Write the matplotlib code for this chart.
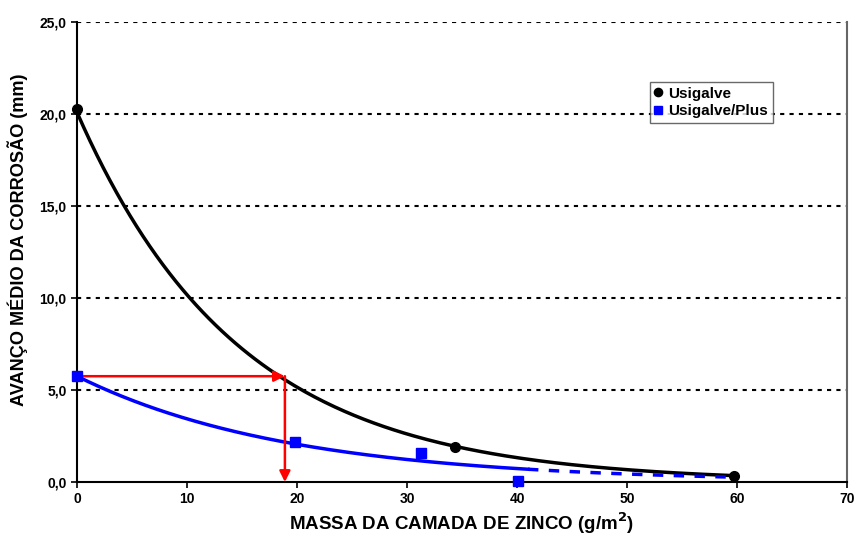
import matplotlib.pyplot as plt
import numpy as np
from matplotlib.ticker import FuncFormatter

plt.rcParams['font.family'] = ['Liberation Sans', 'DejaVu Sans']
plt.rcParams['font.weight'] = 'bold'

# measured points
usi_x = [0.0, 34.4, 59.7]
usi_y = [20.25, 1.9, 0.35]
plus_x = [0.0, 19.8, 31.3, 40.1]
plus_y = [5.75, 2.15, 1.55, 0.05]

# exponential trendline for Usigalve/Plus (y = a*exp(-b*x))
plus_a = 5.75
plus_b = 0.0516
plus_solid_end = 41.0
plus_dash_end = 59.0

# reading of the reference value
ref_y = 5.75
ref_x = 18.9

fig = plt.figure(figsize=(8.58, 5.36), dpi=100)
ax = fig.add_axes([77/858, 1-482/536, 770/858, 460/536])

# Usigalve trendline fitted on log values
k, c = np.polyfit(usi_x, np.log(usi_y), 1)
xs = np.linspace(0, max(usi_x), 200)
ax.plot(xs, np.exp(c + k*xs), color='black', lw=2.5, zorder=3)

xs1 = np.linspace(0, plus_solid_end, 200)
ax.plot(xs1, plus_a*np.exp(-plus_b*xs1), color='#0000ff', lw=2.5, zorder=3)
xs2 = np.linspace(plus_solid_end, plus_dash_end, 100)
ax.plot(xs2, plus_a*np.exp(-plus_b*xs2), color='#0000ff', lw=2.5,
        dashes=(3, 3), zorder=3)

ax.plot(usi_x, usi_y, 'o', color='black', ms=7, zorder=5, label='Usigalve', clip_on=False)
ax.plot(plus_x, plus_y, 's', color='#0000ff', ms=6.5, zorder=5, label='Usigalve/Plus', clip_on=False)

# red reading arrows
ax.annotate('', xy=(ref_x, ref_y), xytext=(0, ref_y),
            arrowprops=dict(arrowstyle='-|>', color='red', lw=1.8,
                            mutation_scale=16, shrinkA=0, shrinkB=0), zorder=4)
ax.annotate('', xy=(ref_x, 0), xytext=(ref_x, ref_y),
            arrowprops=dict(arrowstyle='-|>', color='red', lw=1.8,
                            mutation_scale=16, shrinkA=0, shrinkB=0), zorder=4)

ax.set_xlim(0, 70)
ax.set_ylim(0, 25)
ax.set_xticks(range(0, 71, 10))
ax.set_yticks(np.arange(0, 26, 5))
ax.yaxis.set_major_formatter(FuncFormatter(lambda v, p: f'{v:.1f}'.replace('.', ',')))
ax.tick_params(labelsize=10, width=1.2, length=4)
for lab in ax.get_xticklabels() + ax.get_yticklabels():
    lab.set_fontweight('bold')

for v in range(5, 26, 5):
    ax.axhline(v, color='black', lw=1.5, ls=(0, (2, 2.5)), zorder=1)

ax.spines['top'].set_visible(False)
ax.spines['left'].set_linewidth(1.5)
ax.spines['bottom'].set_linewidth(1.5)
ax.spines['right'].set_color('#666666')
ax.spines['right'].set_linewidth(1.5)

ax.set_xlabel('MASSA DA CAMADA DE ZINCO (g/m$^\\mathbf{2}$)', fontsize=13.5, fontweight='bold', labelpad=3)
ax.set_ylabel('AVANÇO MÉDIO DA CORROSÃO (mm)', fontsize=13.1, fontweight='bold')
ax.yaxis.set_label_coords(-0.063, 0.5 + 12/460)

leg = ax.legend(loc='upper left', frameon=True, fancybox=False,
                fontsize=11, handlelength=0.5, handletextpad=0.4, borderpad=0.3,
                labelspacing=0.25, borderaxespad=0, markerscale=0.85)
leg.set_bbox_to_anchor((650/858, 1 - 82/536), transform=fig.transFigure)
leg.get_frame().set_edgecolor('#444444')
leg.get_frame().set_linewidth(1.0)
for t in leg.get_texts():
    t.set_fontweight('bold')

fig.savefig('out.png', dpi=100)
